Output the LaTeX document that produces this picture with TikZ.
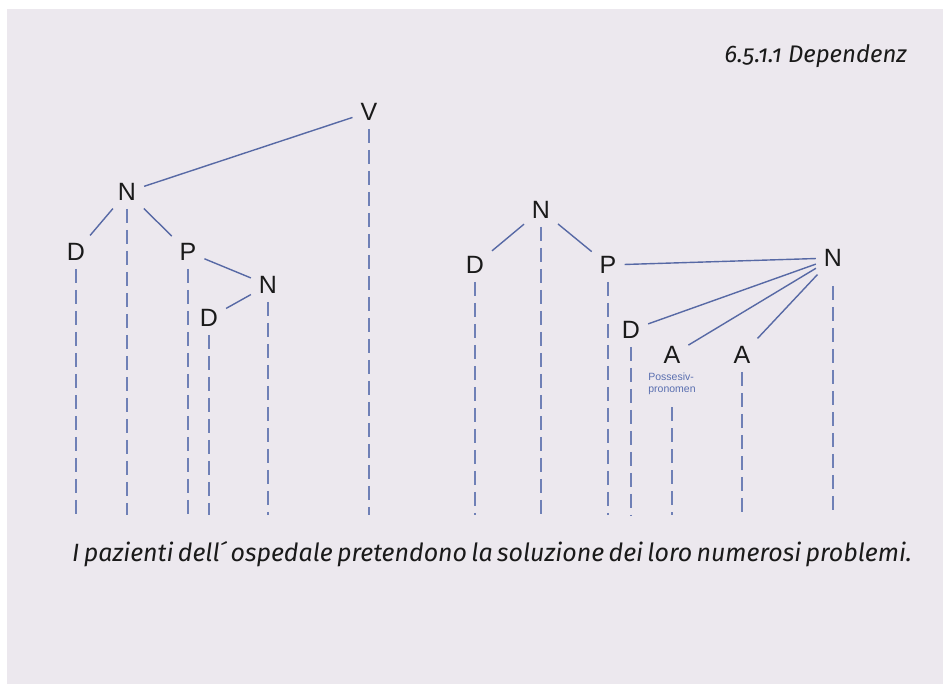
\documentclass[tikz,border=0pt]{standalone}
\usepackage{fontspec}
\setmainfont{Liberation Sans}
\newfontfamily\capfont[Numbers=OldStyle]{Fira Sans}
\definecolor{bgc}{HTML}{ECE8EE}
\definecolor{edgec}{HTML}{5769A5}
\definecolor{dashc}{HTML}{6F80B6}
\definecolor{notec}{HTML}{5A6FB0}
\definecolor{txtc}{HTML}{1A1A1A}
\tikzset{
  cat/.style={text=txtc, inner sep=7pt, font=\fontsize{25}{25}\selectfont},
  edgeline/.style={draw=edgec, line width=1.4pt, shorten <=1pt, shorten >=1pt},
  dashline/.style={draw=dashc, line width=1.1pt, dash pattern=on 14pt off 7pt, shorten <=1pt},
}
\begin{document}
\begin{tikzpicture}[x=1pt,y=-1pt]
\useasboundingbox (0,0) rectangle (943,684);
\fill[white] (0,0) rectangle (943,684);
\fill[bgc] (7,9) rectangle (943,684);
% bottom reference
\coordinate (bot) at (0,515);
% left tree
\node[cat] (V)  at (369,112) {V};
\node[cat] (N1) at (127,192) {N};
\node[cat] (D1) at (76,252) {D};
\node[cat] (P1) at (188,252) {P};
\node[cat] (N2) at (268,285) {N};
\node[cat] (D2) at (209,318) {D};
% right tree
\node[cat] (N3) at (541,210) {N};
\node[cat] (D3) at (475,265) {D};
\node[cat] (P2) at (608,265) {P};
\node[cat] (N4) at (833,258) {N};
\node[cat] (D4) at (631,330) {D};
\node[cat] (A1) at (672,355) {A};
\node[cat] (A2) at (742,355) {A};
\node[text=notec, font=\fontsize{10.5}{12}\selectfont, align=left, inner sep=2pt] (pos) at (672,384) {Possesiv-\\pronomen};
% edges
\draw[edgeline] (N1) -- (V);
\draw[edgeline] (N1) -- (D1);
\draw[edgeline] (N1) -- (P1);
\draw[edgeline] (P1) -- (N2);
\draw[edgeline] (N2) -- (D2);
\draw[edgeline] (N3) -- (D3);
\draw[edgeline] (N3) -- (P2);
\draw[edgeline] (P2) -- (N4);
\draw[edgeline] (N4) -- (D4);
\draw[edgeline] (N4) -- (A1);
\draw[edgeline] (N4) -- (A2);
% dashed projections
\foreach \n in {V,N1,D1,P1,N2,D2,N3,D3,P2,D4,A2}{
  \draw[dashline] (\n.south) -- (\n.south |- bot);
}
\draw[dashline, shorten <=12pt] (N4.south) -- (N4.south |- bot);
\draw[dashline, shorten <=10pt] (pos.south) -- (pos.south |- bot);
% texts
\node[anchor=base east, inner sep=0pt, text=txtc, font=\capfont\itshape\fontsize{24}{24}\selectfont] (title) at (907,63) {6.5.1.1 Dependenz};
\node[anchor=base west, inner sep=0pt, text=txtc, font=\capfont\itshape\fontsize{25}{25}\selectfont] (sent) at (72,561) {\makebox[836pt][s]{I pazienti dell\'{} ospedale pretendono la soluzione dei loro numerosi problemi.}};
\end{tikzpicture}
\end{document}
